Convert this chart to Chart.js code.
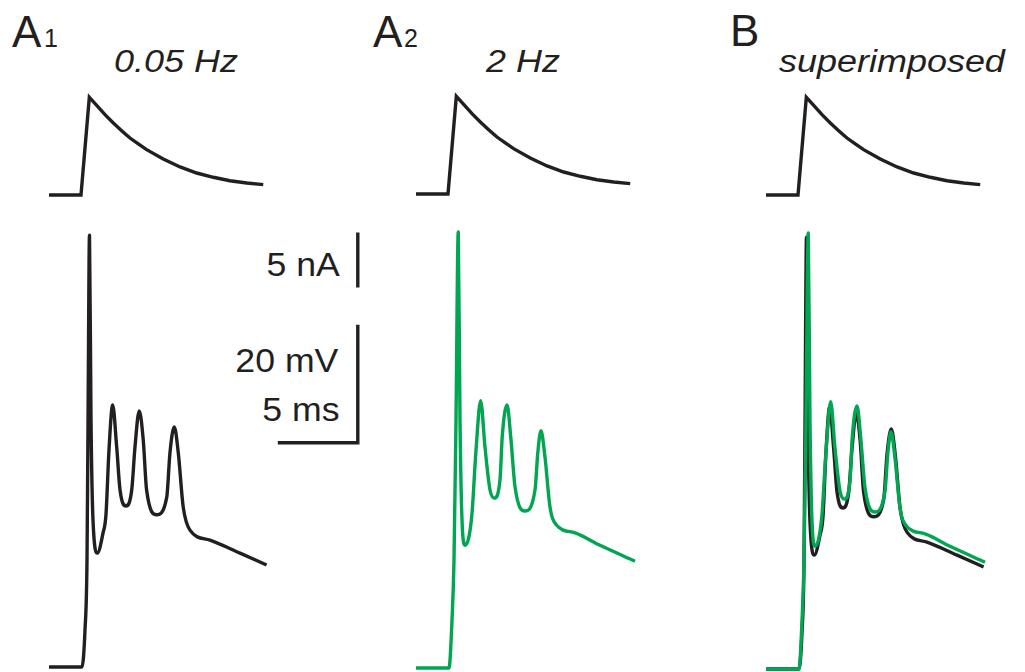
<!DOCTYPE html>
<html>
<head>
<meta charset="utf-8">
<script src="https://cdn.jsdelivr.net/npm/chart.js@4.4.1/dist/chart.umd.min.js"></script>
<style>
  html, body { margin: 0; padding: 0; background: #fff; overflow: hidden; }
  #fig { position: relative; width: 1025px; height: 672px; font-family: "Liberation Sans", Arial, sans-serif; color: #231f20; }
  #fig canvas { position: absolute; }
  .lbl { position: absolute; line-height: 1; white-space: nowrap; }
  .big { font-size: 44px; }
  .sub { font-size: 25px; }
  .title { font-size: 31px; font-style: italic; transform: scaleX(1.16); transform-origin: left; }
  .bar { font-size: 33px; text-align: right; transform: scaleX(1.08); transform-origin: right; }
</style>
</head>
<body>
<div id="fig">
  <div class="lbl big" style="left:12px;top:10px">A</div>
  <div class="lbl sub" style="left:44px;top:26px">1</div>
  <div class="lbl title" style="left:114px;top:46px">0.05 Hz</div>

  <div class="lbl big" style="left:373px;top:10px">A</div>
  <div class="lbl sub" style="left:404px;top:26px">2</div>
  <div class="lbl title" style="left:486px;top:46px">2 Hz</div>

  <div class="lbl big" style="left:730px;top:9px">B</div>
  <div class="lbl title" style="left:779px;top:46px">superimposed</div>

  <div class="lbl bar" style="right:685px;top:248px">5 nA</div>
  <div class="lbl bar" style="right:687px;top:344px">20 mV</div>
  <div class="lbl bar" style="right:685px;top:393px">5 ms</div>
</div>

<script>
// injected current (nA), time in ms from current onset
const timeI = [-2, 0, 0.52, 0.98, 1.5, 2.02, 2.54, 3.06, 3.58, 4.1, 5.14, 6.19, 7.23, 8.27, 9.31, 10.36, 11.39];
const curI  = [0, 0, 8.88, 8.15, 7.3, 6.55, 5.85, 5.18, 4.64, 4.12, 3.27, 2.55, 2.0, 1.61, 1.3, 1.09, 0.94];

// membrane potential (mV above rest) at 0.05 Hz
const timeV1 = [-2, 0.06, 0.25, 0.375, 0.44, 0.53, 0.625, 0.75, 1.02, 1.375, 1.56, 1.75, 1.98,
  2.23, 2.44, 2.81, 3.17, 3.375, 3.64, 3.89, 4.1, 4.73, 5.36, 5.56, 5.83, 6.08, 6.39, 6.81,
  8.06, 9.94, 11.6];
const volt1  = [0, 0, 6.3, 18.1, 41.9, 73.2, 41.9, 24.9, 19.3, 22.7, 25.8, 36.8, 44.4,
  37.3, 30, 27.3, 30, 37.3, 43.4, 38.5, 30, 25.8, 28.8, 36.3, 40.7, 36.3, 27.1, 23.2,
  21.5, 19.3, 17.3];

// membrane potential at 2 Hz
const timeV2 = [-2, 0.06, 0.25, 0.375, 0.5, 0.64, 0.75, 0.875, 1.06, 1.48, 1.75, 2.04,
  2.31, 2.625, 2.9, 3.25, 3.39, 3.69, 3.92, 4.19, 4.81, 5.44, 5.61, 5.81, 6.06, 6.375,
  6.79, 7.94, 9.5, 11.69];
const volt2  = [0, 0, 8.1, 18.3, 42, 73.9, 42, 25.1, 20.8, 25.6, 36.9, 45.3,
  37.5, 30.2, 28.8, 31.9, 39.2, 44.6, 39.2, 30.7, 26.6, 30.2, 36.4, 40.2, 35.8, 27.3,
  24.2, 22.9, 20.8, 18.1];

// scale bars
const barNA = 5, barMV = 20, barMS = 5;
const barT = 17.3, barV0 = 38, barI0 = -8.4;

const BLACK = '#231f20', GREEN = '#00a651';
const PX_MS = 16, PX_MV = 5.9, PX_NA = 11;
const TOP = 60, BOTTOM = 672;

const pts = (xs, ys) => xs.map((x, i) => ({ x: x, y: ys[i] }));

function trace(xs, ys, color, axis, smooth) {
  return {
    data: pts(xs, ys),
    borderColor: color,
    borderWidth: 3.4,
    pointRadius: 0,
    yAxisID: axis,
    cubicInterpolationMode: smooth ? 'monotone' : 'default',
    tension: 0,
    borderCapStyle: 'butt',
    borderJoinStyle: smooth ? 'round' : 'miter',
    clip: false
  };
}

function panel(onsetPx, tMin, tMax, baseI, baseV, datasets) {
  const c = document.createElement('canvas');
  c.width = (tMax - tMin) * PX_MS;
  c.height = BOTTOM - TOP;
  c.style.left = (onsetPx + tMin * PX_MS) + 'px';
  c.style.top = TOP + 'px';
  document.getElementById('fig').appendChild(c);
  new Chart(c, {
    type: 'line',
    data: { datasets: datasets },
    options: {
      responsive: false,
      animation: false,
      events: [],
      layout: { padding: 0 },
      plugins: { legend: { display: false }, tooltip: { enabled: false } },
      scales: {
        x: { type: 'linear', min: tMin, max: tMax, display: false },
        yI: { type: 'linear', min: -(BOTTOM - baseI) / PX_NA, max: (baseI - TOP) / PX_NA, display: false },
        yV: { type: 'linear', min: -(BOTTOM - baseV) / PX_MV, max: (baseV - TOP) / PX_MV, display: false }
      }
    }
  });
}

const bars = [
  trace([barT, barT], [barI0 + barNA, barI0], BLACK, 'yI', false),
  trace([barT - barMS, barT, barT], [barV0, barV0, barV0 + barMV], BLACK, 'yV', false)
];

panel(81, -3, 18, 195, 667, [
  trace(timeI, curI, BLACK, 'yI', false),
  trace(timeV1, volt1, BLACK, 'yV', true)
].concat(bars));

panel(448, -3, 13, 194, 668, [
  trace(timeI, curI, BLACK, 'yI', false),
  trace(timeV2, volt2, GREEN, 'yV', true)
]);

// superimposed: green drawn on top of black
panel(798, -3, 13, 195, 669, [
  trace(timeV2, volt2, GREEN, 'yV', true),
  trace(timeI, curI, BLACK, 'yI', false),
  trace(timeV1, volt1, BLACK, 'yV', true)
]);
</script>
</body>
</html>
